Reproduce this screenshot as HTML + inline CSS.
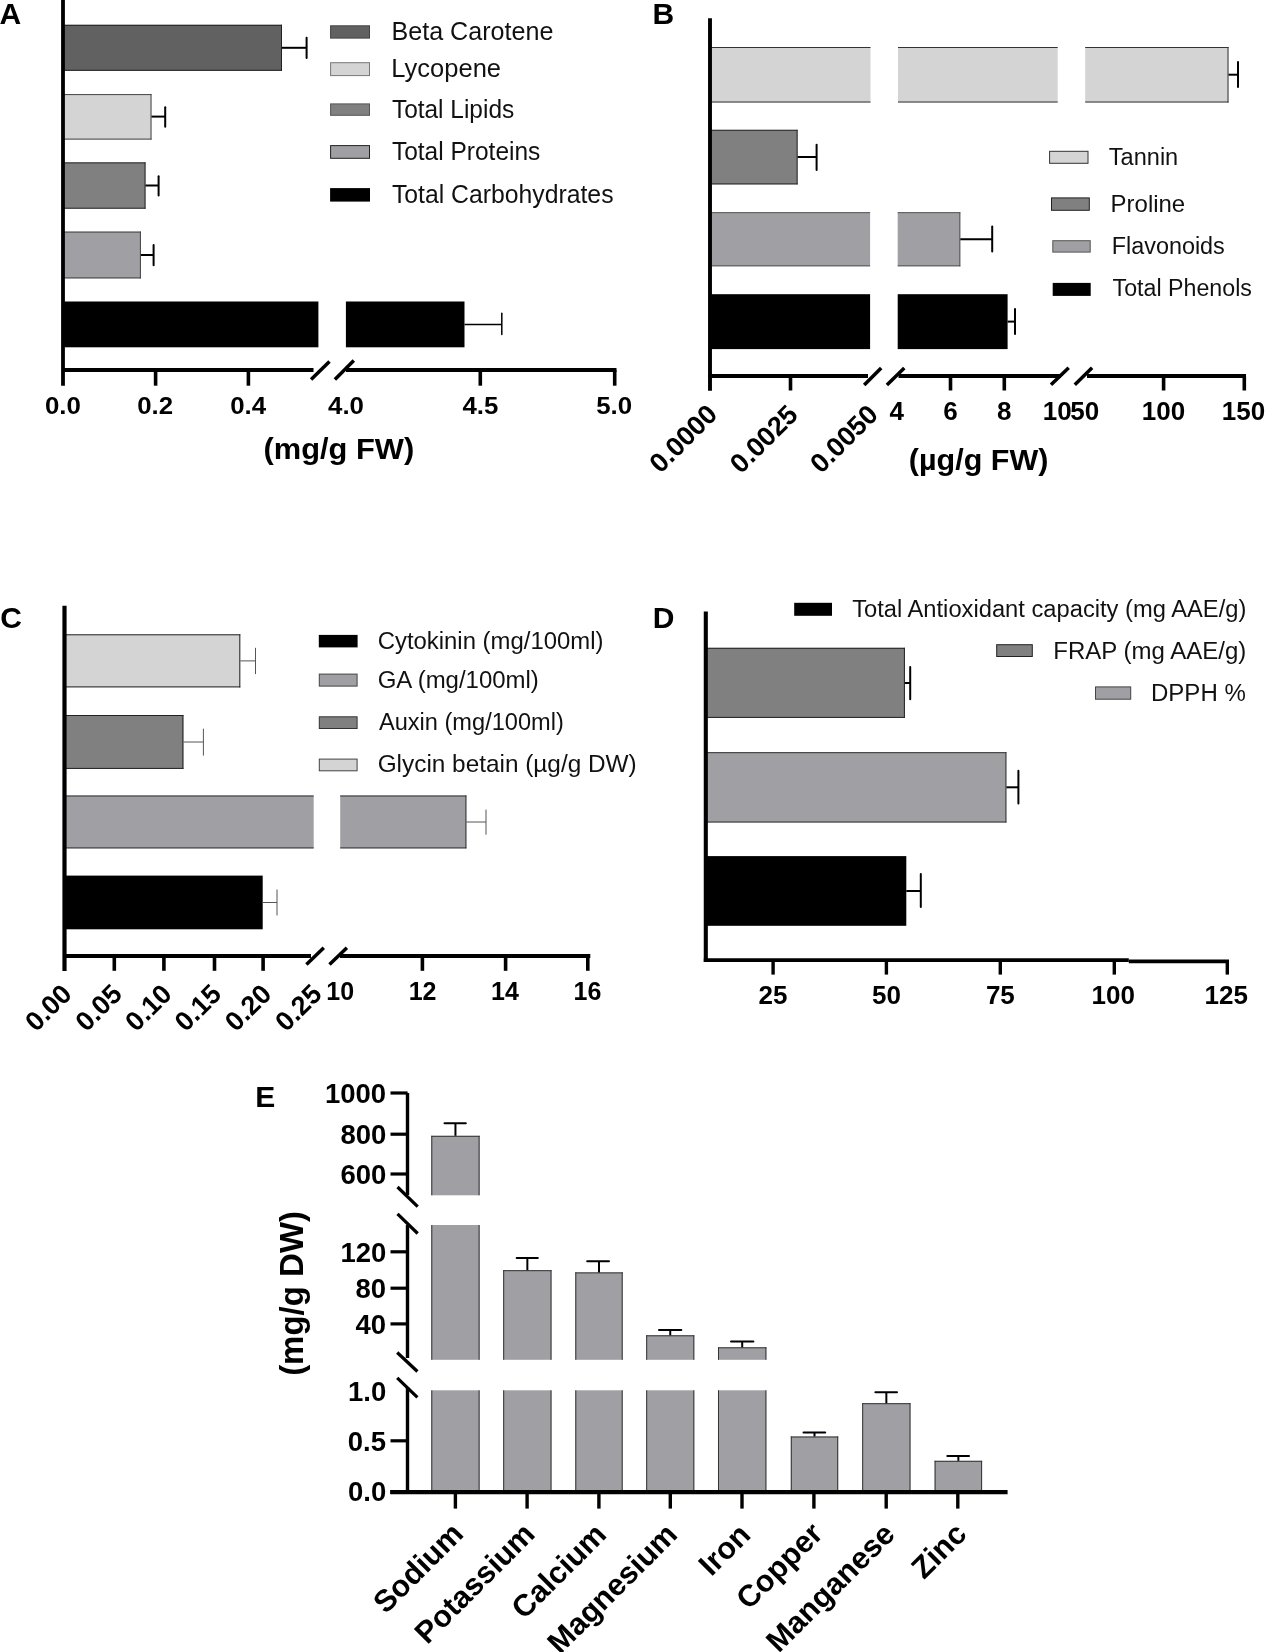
<!DOCTYPE html>
<html><head><meta charset="utf-8"><style>
html,body{margin:0;padding:0;background:#fff;}
body{width:1265px;height:1652px;overflow:hidden;}
svg{display:block;will-change:transform;}
text{font-family:"Liberation Sans",sans-serif;}
</style></head><body>
<svg width="1265" height="1652" viewBox="0 0 1265 1652">
<rect width="1265" height="1652" fill="#fff"/>
<text transform="translate(-0.60,24.20)" font-size="30" font-weight="bold" text-anchor="start" fill="#000">A</text>
<rect x="63.00" y="24.80" width="219.00" height="46.00" fill="#616161"/>
<line x1="63.00" y1="25.30" x2="282.00" y2="25.30" stroke="#222" stroke-width="1"/>
<line x1="63.00" y1="70.30" x2="282.00" y2="70.30" stroke="#222" stroke-width="1"/>
<line x1="281.50" y1="24.80" x2="281.50" y2="70.80" stroke="#222" stroke-width="1"/>
<line x1="282" y1="47.8" x2="306.6" y2="47.8" stroke="#000" stroke-width="2" stroke-linecap="butt"/>
<line x1="306.6" y1="37.7" x2="306.6" y2="58.0" stroke="#000" stroke-width="2" stroke-linecap="round"/>
<rect x="63.00" y="94.10" width="88.50" height="45.50" fill="#d4d4d4"/>
<line x1="63.00" y1="94.60" x2="151.50" y2="94.60" stroke="#444" stroke-width="1"/>
<line x1="63.00" y1="139.10" x2="151.50" y2="139.10" stroke="#444" stroke-width="1"/>
<line x1="151.00" y1="94.10" x2="151.00" y2="139.60" stroke="#444" stroke-width="1"/>
<line x1="151.5" y1="116.6" x2="165.2" y2="116.6" stroke="#000" stroke-width="2" stroke-linecap="butt"/>
<line x1="165.2" y1="107.2" x2="165.2" y2="126.7" stroke="#000" stroke-width="2" stroke-linecap="round"/>
<rect x="63.00" y="162.40" width="82.50" height="46.30" fill="#808080"/>
<line x1="63.00" y1="162.90" x2="145.50" y2="162.90" stroke="#2a2a2a" stroke-width="1"/>
<line x1="63.00" y1="208.20" x2="145.50" y2="208.20" stroke="#2a2a2a" stroke-width="1"/>
<line x1="145.00" y1="162.40" x2="145.00" y2="208.70" stroke="#2a2a2a" stroke-width="1"/>
<line x1="145.5" y1="185.5" x2="158.6" y2="185.5" stroke="#000" stroke-width="2" stroke-linecap="butt"/>
<line x1="158.6" y1="176.3" x2="158.6" y2="195.6" stroke="#000" stroke-width="2" stroke-linecap="round"/>
<rect x="63.00" y="231.60" width="77.90" height="46.80" fill="#a09fa4"/>
<line x1="63.00" y1="232.10" x2="140.90" y2="232.10" stroke="#444" stroke-width="1"/>
<line x1="63.00" y1="277.90" x2="140.90" y2="277.90" stroke="#444" stroke-width="1"/>
<line x1="140.40" y1="231.60" x2="140.40" y2="278.40" stroke="#444" stroke-width="1"/>
<line x1="140.9" y1="255" x2="153.6" y2="255" stroke="#000" stroke-width="2" stroke-linecap="butt"/>
<line x1="153.6" y1="245.0" x2="153.6" y2="265.3" stroke="#000" stroke-width="2" stroke-linecap="round"/>
<rect x="63.00" y="301.50" width="255.40" height="45.80" fill="#000"/>
<rect x="345.90" y="301.50" width="118.60" height="45.80" fill="#000"/>
<line x1="464.5" y1="324.4" x2="501.8" y2="324.4" stroke="#000" stroke-width="1.5" stroke-linecap="butt"/>
<line x1="501.8" y1="313.35" x2="501.8" y2="334.55" stroke="#000" stroke-width="1.5" stroke-linecap="round"/>
<line x1="63" y1="0" x2="63" y2="385.7" stroke="#000" stroke-width="3.8" stroke-linecap="butt"/>
<line x1="62" y1="370" x2="313.5" y2="370" stroke="#000" stroke-width="3.9" stroke-linecap="butt"/>
<line x1="346" y1="370" x2="616.5" y2="370" stroke="#000" stroke-width="3.9" stroke-linecap="butt"/>
<line x1="155.6" y1="370" x2="155.6" y2="385.7" stroke="#000" stroke-width="3.6" stroke-linecap="butt"/>
<line x1="248.4" y1="370" x2="248.4" y2="385.7" stroke="#000" stroke-width="3.6" stroke-linecap="butt"/>
<line x1="480.3" y1="370" x2="480.3" y2="385.7" stroke="#000" stroke-width="3.6" stroke-linecap="butt"/>
<line x1="614.7" y1="370" x2="614.7" y2="385.7" stroke="#000" stroke-width="3.6" stroke-linecap="butt"/>
<line x1="311.1" y1="379.6" x2="329.5" y2="361.6" stroke="#000" stroke-width="3.5" stroke-linecap="butt"/>
<line x1="334.9" y1="379.6" x2="353.8" y2="360.6" stroke="#000" stroke-width="3.5" stroke-linecap="butt"/>
<text transform="translate(44.95,413.50) scale(1.0500,1)" font-size="24.6" font-weight="bold" text-anchor="start" fill="#000">0.0</text>
<text transform="translate(137.15,413.50) scale(1.0500,1)" font-size="24.6" font-weight="bold" text-anchor="start" fill="#000">0.2</text>
<text transform="translate(230.16,413.50) scale(1.0500,1)" font-size="24.6" font-weight="bold" text-anchor="start" fill="#000">0.4</text>
<text transform="translate(328.04,413.50) scale(1.0500,1)" font-size="24.6" font-weight="bold" text-anchor="start" fill="#000">4.0</text>
<text transform="translate(462.41,413.50) scale(1.0500,1)" font-size="24.6" font-weight="bold" text-anchor="start" fill="#000">4.5</text>
<text transform="translate(596.18,413.50) scale(1.0500,1)" font-size="24.6" font-weight="bold" text-anchor="start" fill="#000">5.0</text>
<text transform="translate(263.56,458.90) scale(1.0279,1)" font-size="30" font-weight="bold" text-anchor="start" fill="#000">(mg/g FW)</text>
<rect x="330.60" y="25.80" width="38.90" height="12.30" fill="#616161" stroke="#444" stroke-width="1"/>
<rect x="330.60" y="62.70" width="38.90" height="12.90" fill="#d4d4d4" stroke="#777" stroke-width="1"/>
<rect x="330.60" y="103.90" width="38.90" height="11.40" fill="#808080" stroke="#555" stroke-width="1"/>
<rect x="330.60" y="145.60" width="38.90" height="12.70" fill="#a09fa4" stroke="#222" stroke-width="1"/>
<rect x="330.10" y="188.10" width="39.90" height="13.50" fill="#000"/>
<text transform="translate(391.49,40.00) scale(1.0044,1)" font-size="25" font-weight="normal" text-anchor="start" fill="#111">Beta Carotene</text>
<text transform="translate(391.36,77.20) scale(1.0206,1)" font-size="25" font-weight="normal" text-anchor="start" fill="#111">Lycopene</text>
<text transform="translate(391.91,117.90) scale(0.9781,1)" font-size="25" font-weight="normal" text-anchor="start" fill="#111">Total Lipids</text>
<text transform="translate(391.91,159.70) scale(0.9800,1)" font-size="25" font-weight="normal" text-anchor="start" fill="#111">Total Proteins</text>
<text transform="translate(391.90,202.80) scale(0.9912,1)" font-size="25" font-weight="normal" text-anchor="start" fill="#111">Total Carbohydrates</text>
<text transform="translate(652.55,24.05)" font-size="30.0" font-weight="bold" text-anchor="start" fill="#000">B</text>
<rect x="710.00" y="47.00" width="160.50" height="55.50" fill="#d4d4d4"/>
<line x1="710.00" y1="47.50" x2="870.50" y2="47.50" stroke="#333" stroke-width="1"/>
<line x1="710.00" y1="102.00" x2="870.50" y2="102.00" stroke="#333" stroke-width="1"/>
<rect x="898.00" y="47.00" width="159.70" height="55.50" fill="#d4d4d4"/>
<line x1="898.00" y1="47.50" x2="1057.70" y2="47.50" stroke="#333" stroke-width="1"/>
<line x1="898.00" y1="102.00" x2="1057.70" y2="102.00" stroke="#333" stroke-width="1"/>
<rect x="1085.20" y="47.00" width="143.30" height="55.50" fill="#d4d4d4"/>
<line x1="1085.20" y1="47.50" x2="1228.50" y2="47.50" stroke="#333" stroke-width="1"/>
<line x1="1085.20" y1="102.00" x2="1228.50" y2="102.00" stroke="#333" stroke-width="1"/>
<line x1="1228.00" y1="47.00" x2="1228.00" y2="102.50" stroke="#333" stroke-width="1"/>
<rect x="710.00" y="129.80" width="87.60" height="54.60" fill="#808080"/>
<line x1="710.00" y1="130.30" x2="797.60" y2="130.30" stroke="#2a2a2a" stroke-width="1"/>
<line x1="710.00" y1="183.90" x2="797.60" y2="183.90" stroke="#2a2a2a" stroke-width="1"/>
<line x1="797.10" y1="129.80" x2="797.10" y2="184.40" stroke="#2a2a2a" stroke-width="1"/>
<rect x="710.00" y="212.20" width="160.10" height="54.10" fill="#a09fa4"/>
<line x1="710.00" y1="212.70" x2="870.10" y2="212.70" stroke="#555" stroke-width="1"/>
<line x1="710.00" y1="265.80" x2="870.10" y2="265.80" stroke="#555" stroke-width="1"/>
<rect x="897.70" y="212.20" width="62.60" height="54.10" fill="#a09fa4"/>
<line x1="897.70" y1="212.70" x2="960.30" y2="212.70" stroke="#555" stroke-width="1"/>
<line x1="897.70" y1="265.80" x2="960.30" y2="265.80" stroke="#555" stroke-width="1"/>
<line x1="959.80" y1="212.20" x2="959.80" y2="266.30" stroke="#555" stroke-width="1"/>
<rect x="710.00" y="294.20" width="160.10" height="54.90" fill="#000"/>
<rect x="897.70" y="294.20" width="109.90" height="54.90" fill="#000"/>
<line x1="1228.5" y1="74.7" x2="1238" y2="74.7" stroke="#000" stroke-width="2" stroke-linecap="butt"/>
<line x1="1238" y1="62.1" x2="1238" y2="87.1" stroke="#000" stroke-width="2" stroke-linecap="round"/>
<line x1="797.6" y1="157" x2="816.6" y2="157" stroke="#000" stroke-width="2" stroke-linecap="butt"/>
<line x1="816.6" y1="144.7" x2="816.6" y2="170.0" stroke="#000" stroke-width="2" stroke-linecap="round"/>
<line x1="960.3" y1="239.3" x2="992.2" y2="239.3" stroke="#000" stroke-width="2" stroke-linecap="butt"/>
<line x1="992.2" y1="226.6" x2="992.2" y2="251.6" stroke="#000" stroke-width="2" stroke-linecap="round"/>
<line x1="1007.6" y1="321.6" x2="1015" y2="321.6" stroke="#000" stroke-width="2" stroke-linecap="butt"/>
<line x1="1015" y1="309.0" x2="1015" y2="334.0" stroke="#000" stroke-width="2" stroke-linecap="round"/>
<line x1="710" y1="18.2" x2="710" y2="390.8" stroke="#000" stroke-width="3.9" stroke-linecap="butt"/>
<line x1="708.5" y1="376" x2="868" y2="376" stroke="#000" stroke-width="3.8" stroke-linecap="butt"/>
<line x1="898.5" y1="376" x2="1061" y2="376" stroke="#000" stroke-width="3.8" stroke-linecap="butt"/>
<line x1="1087" y1="376" x2="1246" y2="376" stroke="#000" stroke-width="3.8" stroke-linecap="butt"/>
<line x1="790.5" y1="376" x2="790.5" y2="390.5" stroke="#000" stroke-width="3.6" stroke-linecap="butt"/>
<line x1="950.5" y1="376" x2="950.5" y2="390.5" stroke="#000" stroke-width="3.6" stroke-linecap="butt"/>
<line x1="1004.3" y1="376" x2="1004.3" y2="390.5" stroke="#000" stroke-width="3.6" stroke-linecap="butt"/>
<line x1="1163.6" y1="376" x2="1163.6" y2="390.5" stroke="#000" stroke-width="3.6" stroke-linecap="butt"/>
<line x1="1244.3" y1="376" x2="1244.3" y2="390.5" stroke="#000" stroke-width="3.6" stroke-linecap="butt"/>
<line x1="864.2" y1="385" x2="881.2" y2="367.9" stroke="#000" stroke-width="3.5" stroke-linecap="butt"/>
<line x1="886.9" y1="385" x2="904.3" y2="367.9" stroke="#000" stroke-width="3.5" stroke-linecap="butt"/>
<line x1="1051" y1="384.8" x2="1068.7" y2="367.8" stroke="#000" stroke-width="3.5" stroke-linecap="butt"/>
<line x1="1074.8" y1="384.8" x2="1092.1" y2="367.8" stroke="#000" stroke-width="3.5" stroke-linecap="butt"/>
<text transform="translate(889.42,419.50)" font-size="26" font-weight="bold" text-anchor="start" fill="#000">4</text>
<text transform="translate(943.32,419.50)" font-size="26" font-weight="bold" text-anchor="start" fill="#000">6</text>
<text transform="translate(996.92,419.50)" font-size="26" font-weight="bold" text-anchor="start" fill="#000">8</text>
<text transform="translate(1042.68,419.50)" font-size="26" font-weight="bold" text-anchor="start" fill="#000">10</text>
<text transform="translate(1070.27,419.50)" font-size="26" font-weight="bold" text-anchor="start" fill="#000">50</text>
<text transform="translate(1141.73,419.50)" font-size="26" font-weight="bold" text-anchor="start" fill="#000">100</text>
<text transform="translate(1221.73,419.50)" font-size="26" font-weight="bold" text-anchor="start" fill="#000">150</text>
<text transform="translate(718.86,415.96) rotate(-45)" font-size="27.013" font-weight="bold" text-anchor="end" fill="#000">0.0000</text>
<text transform="translate(799.46,416.29) rotate(-45)" font-size="27.013" font-weight="bold" text-anchor="end" fill="#000">0.0025</text>
<text transform="translate(879.56,416.16) rotate(-45)" font-size="27.013" font-weight="bold" text-anchor="end" fill="#000">0.0050</text>
<text transform="translate(908.87,470.00) scale(1.0172,1)" font-size="30" font-weight="bold" text-anchor="start" fill="#000">(µg/g FW)</text>
<rect x="1049.60" y="151.30" width="38.40" height="12.00" fill="#d4d4d4" stroke="#333" stroke-width="1"/>
<text transform="translate(1108.83,165.30) scale(0.9619,1)" font-size="24.5" font-weight="normal" text-anchor="start" fill="#111">Tannin</text>
<rect x="1051.50" y="197.90" width="37.80" height="12.40" fill="#808080" stroke="#222" stroke-width="1"/>
<text transform="translate(1110.58,211.90) scale(0.9788,1)" font-size="24.5" font-weight="normal" text-anchor="start" fill="#111">Proline</text>
<rect x="1052.80" y="240.70" width="37.40" height="11.40" fill="#a09fa4" stroke="#555" stroke-width="1"/>
<text transform="translate(1111.73,253.90) scale(0.9547,1)" font-size="24.5" font-weight="normal" text-anchor="start" fill="#111">Flavonoids</text>
<rect x="1052.70" y="282.90" width="38.00" height="13.00" fill="#000"/>
<text transform="translate(1112.54,296.30) scale(0.9483,1)" font-size="24.5" font-weight="normal" text-anchor="start" fill="#111">Total Phenols</text>
<text transform="translate(0.20,628.00)" font-size="30" font-weight="bold" text-anchor="start" fill="#000">C</text>
<rect x="64.60" y="634.30" width="175.70" height="53.10" fill="#d4d4d4"/>
<line x1="64.60" y1="634.80" x2="240.30" y2="634.80" stroke="#222" stroke-width="1"/>
<line x1="64.60" y1="686.90" x2="240.30" y2="686.90" stroke="#222" stroke-width="1"/>
<line x1="239.80" y1="634.30" x2="239.80" y2="687.40" stroke="#222" stroke-width="1"/>
<line x1="240.3" y1="660.9" x2="255.5" y2="660.9" stroke="#555" stroke-width="1" stroke-linecap="butt"/>
<line x1="255.5" y1="648.2" x2="255.5" y2="673.7" stroke="#555" stroke-width="1" stroke-linecap="round"/>
<rect x="64.60" y="715.00" width="118.80" height="53.90" fill="#808080"/>
<line x1="64.60" y1="715.50" x2="183.40" y2="715.50" stroke="#222" stroke-width="1"/>
<line x1="64.60" y1="768.40" x2="183.40" y2="768.40" stroke="#222" stroke-width="1"/>
<line x1="182.90" y1="715.00" x2="182.90" y2="768.90" stroke="#222" stroke-width="1"/>
<line x1="183.4" y1="742" x2="203.4" y2="742" stroke="#555" stroke-width="1" stroke-linecap="butt"/>
<line x1="203.4" y1="729.1" x2="203.4" y2="755.2" stroke="#555" stroke-width="1" stroke-linecap="round"/>
<rect x="64.60" y="795.50" width="249.10" height="52.90" fill="#a09fa4"/>
<line x1="64.60" y1="796.00" x2="313.70" y2="796.00" stroke="#333" stroke-width="1"/>
<line x1="64.60" y1="847.90" x2="313.70" y2="847.90" stroke="#333" stroke-width="1"/>
<rect x="340.20" y="795.50" width="126.20" height="52.90" fill="#a09fa4"/>
<line x1="340.20" y1="796.00" x2="466.40" y2="796.00" stroke="#333" stroke-width="1"/>
<line x1="340.20" y1="847.90" x2="466.40" y2="847.90" stroke="#333" stroke-width="1"/>
<line x1="465.90" y1="795.50" x2="465.90" y2="848.40" stroke="#333" stroke-width="1"/>
<line x1="466.4" y1="822" x2="486" y2="822" stroke="#555" stroke-width="1" stroke-linecap="butt"/>
<line x1="486" y1="810.0" x2="486" y2="834.3" stroke="#555" stroke-width="1" stroke-linecap="round"/>
<rect x="64.60" y="875.60" width="198.10" height="53.70" fill="#000"/>
<line x1="262.7" y1="902.5" x2="277" y2="902.5" stroke="#555" stroke-width="1" stroke-linecap="butt"/>
<line x1="277" y1="889.9" x2="277" y2="915.1" stroke="#555" stroke-width="1" stroke-linecap="round"/>
<line x1="64.5" y1="605.7" x2="64.5" y2="970.9" stroke="#000" stroke-width="4.2" stroke-linecap="butt"/>
<line x1="63" y1="956" x2="311" y2="956" stroke="#000" stroke-width="4" stroke-linecap="butt"/>
<line x1="340" y1="956" x2="590.3" y2="956" stroke="#000" stroke-width="4" stroke-linecap="butt"/>
<line x1="114.3" y1="956" x2="114.3" y2="970.8" stroke="#000" stroke-width="3.6" stroke-linecap="butt"/>
<line x1="163.9" y1="956" x2="163.9" y2="970.8" stroke="#000" stroke-width="3.6" stroke-linecap="butt"/>
<line x1="214.5" y1="956" x2="214.5" y2="970.8" stroke="#000" stroke-width="3.6" stroke-linecap="butt"/>
<line x1="263.1" y1="956" x2="263.1" y2="970.8" stroke="#000" stroke-width="3.6" stroke-linecap="butt"/>
<line x1="422.4" y1="956" x2="422.4" y2="970.8" stroke="#000" stroke-width="3.6" stroke-linecap="butt"/>
<line x1="505.6" y1="956" x2="505.6" y2="970.8" stroke="#000" stroke-width="3.6" stroke-linecap="butt"/>
<line x1="587.8" y1="956" x2="587.8" y2="970.8" stroke="#000" stroke-width="3.6" stroke-linecap="butt"/>
<line x1="306.4" y1="964.5" x2="323.8" y2="947.7" stroke="#000" stroke-width="3.5" stroke-linecap="butt"/>
<line x1="329.5" y1="964.5" x2="346.9" y2="947.7" stroke="#000" stroke-width="3.5" stroke-linecap="butt"/>
<text transform="translate(73.31,995.53) rotate(-45)" font-size="26.967" font-weight="bold" text-anchor="end" fill="#000">0.00</text>
<text transform="translate(123.54,995.66) rotate(-45)" font-size="26.967" font-weight="bold" text-anchor="end" fill="#000">0.05</text>
<text transform="translate(173.39,995.53) rotate(-45)" font-size="26.967" font-weight="bold" text-anchor="end" fill="#000">0.10</text>
<text transform="translate(222.86,995.71) rotate(-45)" font-size="26.967" font-weight="bold" text-anchor="end" fill="#000">0.15</text>
<text transform="translate(273.02,995.58) rotate(-45)" font-size="26.967" font-weight="bold" text-anchor="end" fill="#000">0.20</text>
<text transform="translate(323.28,995.71) rotate(-45)" font-size="26.967" font-weight="bold" text-anchor="end" fill="#000">0.25</text>
<text transform="translate(326.25,999.80)" font-size="25" font-weight="bold" text-anchor="start" fill="#000">10</text>
<text transform="translate(408.65,999.80)" font-size="25" font-weight="bold" text-anchor="start" fill="#000">12</text>
<text transform="translate(490.98,999.80)" font-size="25" font-weight="bold" text-anchor="start" fill="#000">14</text>
<text transform="translate(573.55,999.80)" font-size="25" font-weight="bold" text-anchor="start" fill="#000">16</text>
<rect x="318.80" y="634.90" width="38.80" height="12.50" fill="#000"/>
<text transform="translate(377.70,649.00) scale(0.9963,1)" font-size="24" font-weight="normal" text-anchor="start" fill="#111">Cytokinin (mg/100ml)</text>
<rect x="319.30" y="674.10" width="37.80" height="12.00" fill="#a09fa4" stroke="#444" stroke-width="1"/>
<text transform="translate(377.70,688.40) scale(0.9991,1)" font-size="24" font-weight="normal" text-anchor="start" fill="#111">GA (mg/100ml)</text>
<rect x="319.30" y="716.80" width="37.80" height="11.70" fill="#808080" stroke="#333" stroke-width="1"/>
<text transform="translate(378.90,730.40) scale(0.9835,1)" font-size="24" font-weight="normal" text-anchor="start" fill="#111">Auxin (mg/100ml)</text>
<rect x="319.30" y="759.10" width="37.80" height="11.70" fill="#d4d4d4" stroke="#444" stroke-width="1"/>
<text transform="translate(377.68,772.00) scale(1.0151,1)" font-size="24" font-weight="normal" text-anchor="start" fill="#111">Glycin betain (µg/g DW)</text>
<text transform="translate(652.80,628.00)" font-size="30" font-weight="bold" text-anchor="start" fill="#000">D</text>
<rect x="706.00" y="647.80" width="198.90" height="70.10" fill="#808080"/>
<line x1="706.00" y1="648.30" x2="904.90" y2="648.30" stroke="#222" stroke-width="1"/>
<line x1="706.00" y1="717.40" x2="904.90" y2="717.40" stroke="#222" stroke-width="1"/>
<line x1="904.40" y1="647.80" x2="904.40" y2="717.90" stroke="#222" stroke-width="1"/>
<line x1="904.9" y1="683" x2="910.2" y2="683" stroke="#000" stroke-width="2" stroke-linecap="butt"/>
<line x1="910.2" y1="667.0" x2="910.2" y2="699.2" stroke="#000" stroke-width="2" stroke-linecap="round"/>
<rect x="706.00" y="752.20" width="300.40" height="70.30" fill="#a09fa4"/>
<line x1="706.00" y1="752.70" x2="1006.40" y2="752.70" stroke="#333" stroke-width="1"/>
<line x1="706.00" y1="822.00" x2="1006.40" y2="822.00" stroke="#333" stroke-width="1"/>
<line x1="1005.90" y1="752.20" x2="1005.90" y2="822.50" stroke="#333" stroke-width="1"/>
<line x1="1006.4" y1="787.3" x2="1018.4" y2="787.3" stroke="#000" stroke-width="2" stroke-linecap="butt"/>
<line x1="1018.4" y1="770.8" x2="1018.4" y2="803.6" stroke="#000" stroke-width="2" stroke-linecap="round"/>
<rect x="706.00" y="856.10" width="200.30" height="69.70" fill="#000"/>
<line x1="906.3" y1="891" x2="920.8" y2="891" stroke="#000" stroke-width="2" stroke-linecap="butt"/>
<line x1="920.8" y1="874.1" x2="920.8" y2="906.9" stroke="#000" stroke-width="2" stroke-linecap="round"/>
<line x1="705.8" y1="611.6" x2="705.8" y2="962" stroke="#000" stroke-width="4.1" stroke-linecap="butt"/>
<line x1="703.8" y1="960.1" x2="1128.8" y2="960.1" stroke="#000" stroke-width="3.7" stroke-linecap="butt"/>
<line x1="1128.8" y1="961.3" x2="1229" y2="961.3" stroke="#000" stroke-width="3.7" stroke-linecap="butt"/>
<line x1="773.1" y1="960" x2="773.1" y2="974.6" stroke="#000" stroke-width="3.4" stroke-linecap="butt"/>
<line x1="886.4" y1="960" x2="886.4" y2="974.6" stroke="#000" stroke-width="3.4" stroke-linecap="butt"/>
<line x1="1000.3" y1="960" x2="1000.3" y2="974.6" stroke="#000" stroke-width="3.4" stroke-linecap="butt"/>
<line x1="1114.3" y1="960" x2="1114.3" y2="974.6" stroke="#000" stroke-width="3.4" stroke-linecap="butt"/>
<line x1="1227.3" y1="960" x2="1227.3" y2="974.6" stroke="#000" stroke-width="3.4" stroke-linecap="butt"/>
<text transform="translate(758.54,1004.20)" font-size="26" font-weight="bold" text-anchor="start" fill="#000">25</text>
<text transform="translate(871.97,1004.20)" font-size="26" font-weight="bold" text-anchor="start" fill="#000">50</text>
<text transform="translate(985.91,1004.20)" font-size="26" font-weight="bold" text-anchor="start" fill="#000">75</text>
<text transform="translate(1091.53,1004.20)" font-size="26" font-weight="bold" text-anchor="start" fill="#000">100</text>
<text transform="translate(1204.50,1004.20)" font-size="26" font-weight="bold" text-anchor="start" fill="#000">125</text>
<rect x="794.20" y="602.80" width="37.80" height="13.00" fill="#000"/>
<text transform="translate(852.13,616.90) scale(0.9683,1)" font-size="24.5" font-weight="normal" text-anchor="start" fill="#111">Total Antioxidant capacity (mg AAE/g)</text>
<rect x="996.70" y="644.70" width="35.60" height="11.80" fill="#808080" stroke="#222" stroke-width="1"/>
<text transform="translate(1053.28,658.60) scale(0.9806,1)" font-size="24.5" font-weight="normal" text-anchor="start" fill="#111">FRAP (mg AAE/g)</text>
<rect x="1095.50" y="686.90" width="35.20" height="12.30" fill="#a09fa4" stroke="#444" stroke-width="1"/>
<text transform="translate(1150.98,700.70) scale(0.9815,1)" font-size="24.5" font-weight="normal" text-anchor="start" fill="#111">DPPH %</text>
<text transform="translate(255.30,1107.30)" font-size="30" font-weight="bold" text-anchor="start" fill="#000">E</text>
<rect x="431.30" y="1135.80" width="48.30" height="59.50" fill="#a09fa4"/>
<line x1="431.30" y1="1136.30" x2="479.60" y2="1136.30" stroke="#333" stroke-width="1"/>
<line x1="431.80" y1="1135.80" x2="431.80" y2="1195.30" stroke="#333" stroke-width="1"/>
<line x1="479.10" y1="1135.80" x2="479.10" y2="1195.30" stroke="#333" stroke-width="1"/>
<rect x="431.30" y="1225.00" width="48.30" height="134.80" fill="#a09fa4"/>
<line x1="431.80" y1="1225.00" x2="431.80" y2="1359.80" stroke="#333" stroke-width="1"/>
<line x1="479.10" y1="1225.00" x2="479.10" y2="1359.80" stroke="#333" stroke-width="1"/>
<rect x="431.30" y="1390.30" width="48.30" height="100.70" fill="#a09fa4"/>
<line x1="431.80" y1="1390.30" x2="431.80" y2="1491.00" stroke="#333" stroke-width="1"/>
<line x1="479.10" y1="1390.30" x2="479.10" y2="1491.00" stroke="#333" stroke-width="1"/>
<line x1="455.45000000000005" y1="1135.8" x2="455.45000000000005" y2="1123.2" stroke="#000" stroke-width="2" stroke-linecap="butt"/>
<line x1="444.5" y1="1123.2" x2="465.8" y2="1123.2" stroke="#000" stroke-width="2" stroke-linecap="round"/>
<rect x="503.20" y="1270.20" width="48.30" height="89.60" fill="#a09fa4"/>
<line x1="503.20" y1="1270.70" x2="551.50" y2="1270.70" stroke="#333" stroke-width="1"/>
<line x1="503.70" y1="1270.20" x2="503.70" y2="1359.80" stroke="#333" stroke-width="1"/>
<line x1="551.00" y1="1270.20" x2="551.00" y2="1359.80" stroke="#333" stroke-width="1"/>
<rect x="503.20" y="1390.30" width="48.30" height="100.70" fill="#a09fa4"/>
<line x1="503.70" y1="1390.30" x2="503.70" y2="1491.00" stroke="#333" stroke-width="1"/>
<line x1="551.00" y1="1390.30" x2="551.00" y2="1491.00" stroke="#333" stroke-width="1"/>
<line x1="527.35" y1="1270.2" x2="527.35" y2="1258.1" stroke="#000" stroke-width="2" stroke-linecap="butt"/>
<line x1="516.7" y1="1258.1" x2="537.8" y2="1258.1" stroke="#000" stroke-width="2" stroke-linecap="round"/>
<rect x="575.30" y="1272.40" width="47.40" height="87.40" fill="#a09fa4"/>
<line x1="575.30" y1="1272.90" x2="622.70" y2="1272.90" stroke="#333" stroke-width="1"/>
<line x1="575.80" y1="1272.40" x2="575.80" y2="1359.80" stroke="#333" stroke-width="1"/>
<line x1="622.20" y1="1272.40" x2="622.20" y2="1359.80" stroke="#333" stroke-width="1"/>
<rect x="575.30" y="1390.30" width="47.40" height="100.70" fill="#a09fa4"/>
<line x1="575.80" y1="1390.30" x2="575.80" y2="1491.00" stroke="#333" stroke-width="1"/>
<line x1="622.20" y1="1390.30" x2="622.20" y2="1491.00" stroke="#333" stroke-width="1"/>
<line x1="599.0" y1="1272.4" x2="599.0" y2="1261.3" stroke="#000" stroke-width="2" stroke-linecap="butt"/>
<line x1="587.2" y1="1261.3" x2="609.0" y2="1261.3" stroke="#000" stroke-width="2" stroke-linecap="round"/>
<rect x="646.20" y="1335.30" width="48.10" height="24.50" fill="#a09fa4"/>
<line x1="646.20" y1="1335.80" x2="694.30" y2="1335.80" stroke="#333" stroke-width="1"/>
<line x1="646.70" y1="1335.30" x2="646.70" y2="1359.80" stroke="#333" stroke-width="1"/>
<line x1="693.80" y1="1335.30" x2="693.80" y2="1359.80" stroke="#333" stroke-width="1"/>
<rect x="646.20" y="1390.30" width="48.10" height="100.70" fill="#a09fa4"/>
<line x1="646.70" y1="1390.30" x2="646.70" y2="1491.00" stroke="#333" stroke-width="1"/>
<line x1="693.80" y1="1390.30" x2="693.80" y2="1491.00" stroke="#333" stroke-width="1"/>
<line x1="670.25" y1="1335.3" x2="670.25" y2="1329.9" stroke="#000" stroke-width="2" stroke-linecap="butt"/>
<line x1="659.0" y1="1329.9" x2="681.3" y2="1329.9" stroke="#000" stroke-width="2" stroke-linecap="round"/>
<rect x="718.00" y="1347.30" width="48.40" height="12.50" fill="#a09fa4"/>
<line x1="718.00" y1="1347.80" x2="766.40" y2="1347.80" stroke="#333" stroke-width="1"/>
<line x1="718.50" y1="1347.30" x2="718.50" y2="1359.80" stroke="#333" stroke-width="1"/>
<line x1="765.90" y1="1347.30" x2="765.90" y2="1359.80" stroke="#333" stroke-width="1"/>
<rect x="718.00" y="1390.30" width="48.40" height="100.70" fill="#a09fa4"/>
<line x1="718.50" y1="1390.30" x2="718.50" y2="1491.00" stroke="#333" stroke-width="1"/>
<line x1="765.90" y1="1390.30" x2="765.90" y2="1491.00" stroke="#333" stroke-width="1"/>
<line x1="742.2" y1="1347.3" x2="742.2" y2="1341.6" stroke="#000" stroke-width="2" stroke-linecap="butt"/>
<line x1="731.0" y1="1341.6" x2="753.4" y2="1341.6" stroke="#000" stroke-width="2" stroke-linecap="round"/>
<rect x="790.80" y="1436.50" width="47.40" height="54.50" fill="#a09fa4"/>
<line x1="790.80" y1="1437.00" x2="838.20" y2="1437.00" stroke="#333" stroke-width="1"/>
<line x1="791.30" y1="1436.50" x2="791.30" y2="1491.00" stroke="#333" stroke-width="1"/>
<line x1="837.70" y1="1436.50" x2="837.70" y2="1491.00" stroke="#333" stroke-width="1"/>
<line x1="814.5" y1="1436.5" x2="814.5" y2="1432.4" stroke="#000" stroke-width="2" stroke-linecap="butt"/>
<line x1="803.5" y1="1432.4" x2="825.2" y2="1432.4" stroke="#000" stroke-width="2" stroke-linecap="round"/>
<rect x="862.20" y="1403.20" width="48.30" height="87.80" fill="#a09fa4"/>
<line x1="862.20" y1="1403.70" x2="910.50" y2="1403.70" stroke="#333" stroke-width="1"/>
<line x1="862.70" y1="1403.20" x2="862.70" y2="1491.00" stroke="#333" stroke-width="1"/>
<line x1="910.00" y1="1403.20" x2="910.00" y2="1491.00" stroke="#333" stroke-width="1"/>
<line x1="886.35" y1="1403.2" x2="886.35" y2="1392.3" stroke="#000" stroke-width="2" stroke-linecap="butt"/>
<line x1="875.4" y1="1392.3" x2="897.0" y2="1392.3" stroke="#000" stroke-width="2" stroke-linecap="round"/>
<rect x="934.60" y="1460.80" width="47.50" height="30.20" fill="#a09fa4"/>
<line x1="934.60" y1="1461.30" x2="982.10" y2="1461.30" stroke="#333" stroke-width="1"/>
<line x1="935.10" y1="1460.80" x2="935.10" y2="1491.00" stroke="#333" stroke-width="1"/>
<line x1="981.60" y1="1460.80" x2="981.60" y2="1491.00" stroke="#333" stroke-width="1"/>
<line x1="958.35" y1="1460.8" x2="958.35" y2="1456.1" stroke="#000" stroke-width="2" stroke-linecap="butt"/>
<line x1="947.3" y1="1456.1" x2="969.0" y2="1456.1" stroke="#000" stroke-width="2" stroke-linecap="round"/>
<line x1="407.5" y1="1093" x2="407.5" y2="1195" stroke="#000" stroke-width="3.4" stroke-linecap="butt"/>
<line x1="407.5" y1="1225" x2="407.5" y2="1358" stroke="#000" stroke-width="3.4" stroke-linecap="butt"/>
<line x1="407.5" y1="1387" x2="407.5" y2="1493" stroke="#000" stroke-width="3.4" stroke-linecap="butt"/>
<line x1="390.1" y1="1492.1" x2="1007.6" y2="1492.1" stroke="#000" stroke-width="4.2" stroke-linecap="butt"/>
<line x1="390.5" y1="1093" x2="407.6" y2="1093" stroke="#000" stroke-width="3.2" stroke-linecap="butt"/>
<line x1="390.5" y1="1134.2" x2="407.6" y2="1134.2" stroke="#000" stroke-width="3.2" stroke-linecap="butt"/>
<line x1="390.5" y1="1174" x2="407.6" y2="1174" stroke="#000" stroke-width="3.2" stroke-linecap="butt"/>
<line x1="390.5" y1="1251.8" x2="407.6" y2="1251.8" stroke="#000" stroke-width="3.2" stroke-linecap="butt"/>
<line x1="390.5" y1="1288.2" x2="407.6" y2="1288.2" stroke="#000" stroke-width="3.2" stroke-linecap="butt"/>
<line x1="390.5" y1="1323.9" x2="407.6" y2="1323.9" stroke="#000" stroke-width="3.2" stroke-linecap="butt"/>
<line x1="390.5" y1="1440.8" x2="407.6" y2="1440.8" stroke="#000" stroke-width="3.2" stroke-linecap="butt"/>
<line x1="397.5" y1="1187" x2="417.7" y2="1206.6" stroke="#000" stroke-width="3.2" stroke-linecap="butt"/>
<line x1="397.5" y1="1213.9" x2="417.7" y2="1233.5" stroke="#000" stroke-width="3.2" stroke-linecap="butt"/>
<line x1="397.2" y1="1352.5" x2="417.4" y2="1371.5" stroke="#000" stroke-width="3.2" stroke-linecap="butt"/>
<line x1="397.2" y1="1377.8" x2="417.4" y2="1397.3" stroke="#000" stroke-width="3.2" stroke-linecap="butt"/>
<line x1="455.4" y1="1492" x2="455.4" y2="1508.6" stroke="#000" stroke-width="3.4" stroke-linecap="butt"/>
<line x1="527.1" y1="1492" x2="527.1" y2="1508.6" stroke="#000" stroke-width="3.4" stroke-linecap="butt"/>
<line x1="598.9" y1="1492" x2="598.9" y2="1508.6" stroke="#000" stroke-width="3.4" stroke-linecap="butt"/>
<line x1="670.3" y1="1492" x2="670.3" y2="1508.6" stroke="#000" stroke-width="3.4" stroke-linecap="butt"/>
<line x1="742" y1="1492" x2="742" y2="1508.6" stroke="#000" stroke-width="3.4" stroke-linecap="butt"/>
<line x1="813.9" y1="1492" x2="813.9" y2="1508.6" stroke="#000" stroke-width="3.4" stroke-linecap="butt"/>
<line x1="886.2" y1="1492" x2="886.2" y2="1508.6" stroke="#000" stroke-width="3.4" stroke-linecap="butt"/>
<line x1="957.8" y1="1492" x2="957.8" y2="1508.6" stroke="#000" stroke-width="3.4" stroke-linecap="butt"/>
<text transform="translate(324.97,1103.30)" font-size="27.5" font-weight="bold" text-anchor="start" fill="#000">1000</text>
<text transform="translate(340.38,1144.00)" font-size="27.5" font-weight="bold" text-anchor="start" fill="#000">800</text>
<text transform="translate(340.38,1184.00)" font-size="27.5" font-weight="bold" text-anchor="start" fill="#000">600</text>
<text transform="translate(340.38,1261.80)" font-size="27.5" font-weight="bold" text-anchor="start" fill="#000">120</text>
<text transform="translate(355.50,1298.20)" font-size="27.5" font-weight="bold" text-anchor="start" fill="#000">80</text>
<text transform="translate(355.50,1334.00)" font-size="27.5" font-weight="bold" text-anchor="start" fill="#000">40</text>
<text transform="translate(348.07,1401.00)" font-size="27.5" font-weight="bold" text-anchor="start" fill="#000">1.0</text>
<text transform="translate(347.80,1450.80)" font-size="27.5" font-weight="bold" text-anchor="start" fill="#000">0.5</text>
<text transform="translate(348.07,1501.40)" font-size="27.5" font-weight="bold" text-anchor="start" fill="#000">0.0</text>
<text transform="translate(464.91,1535.52) rotate(-45)" font-size="30.581" font-weight="bold" text-anchor="end" fill="#000">Sodium</text>
<text transform="translate(536.59,1535.86) rotate(-45)" font-size="30.581" font-weight="bold" text-anchor="end" fill="#000">Potassium</text>
<text transform="translate(608.07,1536.32) rotate(-45)" font-size="30.581" font-weight="bold" text-anchor="end" fill="#000">Calcium</text>
<text transform="translate(679.07,1536.23) rotate(-45)" font-size="30.581" font-weight="bold" text-anchor="end" fill="#000">Magnesium</text>
<text transform="translate(752.10,1536.41) rotate(-45)" font-size="30.581" font-weight="bold" text-anchor="end" fill="#000">Iron</text>
<text transform="translate(824.39,1535.42) rotate(-45)" font-size="30.581" font-weight="bold" text-anchor="end" fill="#000">Copper</text>
<text transform="translate(896.60,1535.95) rotate(-45)" font-size="30.581" font-weight="bold" text-anchor="end" fill="#000">Manganese</text>
<text transform="translate(968.35,1535.69) rotate(-45)" font-size="30.581" font-weight="bold" text-anchor="end" fill="#000">Zinc</text>
<text transform="translate(303.45,1293.40) rotate(-90)" font-size="33.0" font-weight="bold" text-anchor="middle" fill="#000">(mg/g DW)</text>
</svg>
</body></html>
